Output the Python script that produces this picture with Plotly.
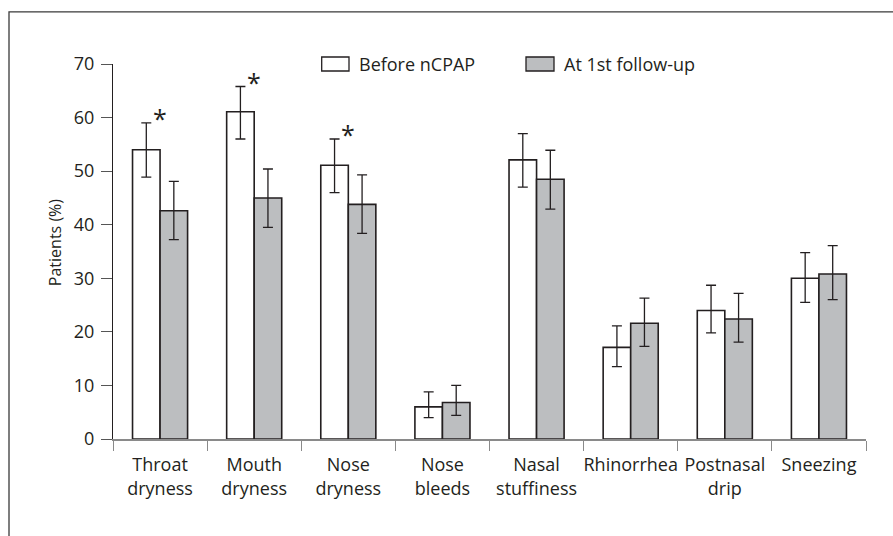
import plotly.graph_objects as go

categories = ["Throat<br>dryness", "Mouth<br>dryness", "Nose<br>dryness", "Nose<br>bleeds",
              "Nasal<br>stuffiness", "Rhinorrhea", "Postnasal<br>drip", "Sneezing"]
before = [54.0, 61.1, 51.1, 6.0, 52.1, 17.1, 24.0, 30.0]
before_err_up = [5.0, 4.7, 4.9, 2.8, 4.9, 4.0, 4.7, 4.8]
before_err_down = [5.1, 5.1, 5.1, 2.0, 5.1, 3.6, 4.2, 4.5]
after = [42.6, 45.0, 43.8, 6.8, 48.5, 21.6, 22.4, 30.8]
after_err_up = [5.5, 5.4, 5.5, 3.2, 5.4, 4.7, 4.8, 5.3]
after_err_down = [5.4, 5.5, 5.4, 2.4, 5.6, 4.3, 4.3, 4.8]
significant = [True, True, True, False, False, False, False, False]
series_names = ["Before nCPAP", "At 1st follow-up"]
y_ticks = [0, 10, 20, 30, 40, 50, 60, 70]

DARK = "#231f20"
GRAY_FILL = "#bcbec0"
AXIS_GRAY = "#8a8a8a"
FONT = "Open Sans"

W, H = 893, 536
L, R, T, B = 113, 866, 64, 438.7


def px(x):
    return (x - L) / (R - L)


def py(y):
    return (B - y) / (B - T)


fig = go.Figure()
fig.add_trace(go.Bar(
    x=categories, y=before, name=series_names[0],
    marker=dict(color="white", line=dict(color=DARK, width=1.6)),
    error_y=dict(type="data", symmetric=False, array=before_err_up, arrayminus=before_err_down,
                 color=DARK, thickness=1.3, width=5),
    showlegend=False,
))
fig.add_trace(go.Bar(
    x=categories, y=after, name=series_names[1],
    marker=dict(color=GRAY_FILL, line=dict(color=DARK, width=1.6)),
    error_y=dict(type="data", symmetric=False, array=after_err_up, arrayminus=after_err_down,
                 color=DARK, thickness=1.3, width=5),
    showlegend=False,
))

annotations = []
for c, sig, v, e in zip(categories, significant, before, before_err_up):
    if sig:
        annotations.append(dict(x=c, y=v + e, xref="x", yref="y", text="*", showarrow=False,
                                font=dict(family=FONT, size=25, color=DARK),
                                yanchor="middle", xanchor="center", yshift=5))

# legend (manual)
shapes = [
    dict(type="rect", xref="paper", yref="paper", x0=px(321.7), x1=px(349), y0=py(71), y1=py(57),
         fillcolor="white", line=dict(color=DARK, width=1.3)),
    dict(type="rect", xref="paper", yref="paper", x0=px(526), x1=px(554), y0=py(71), y1=py(57),
         fillcolor=GRAY_FILL, line=dict(color=DARK, width=1.3)),
    # outer frame
    dict(type="rect", xref="paper", yref="paper", x0=px(9), x1=px(1200), y0=py(900), y1=py(12),
         fillcolor="rgba(0,0,0,0)", line=dict(color="#3a3a3a", width=1.3), layer="below"),
]
annotations.append(dict(x=px(357), y=py(64), xref="paper", yref="paper", text=series_names[0],
                        showarrow=False, xanchor="left", yanchor="middle",
                        font=dict(family=FONT, size=18, color=DARK)))
annotations.append(dict(x=px(562), y=py(64), xref="paper", yref="paper", text=series_names[1],
                        showarrow=False, xanchor="left", yanchor="middle",
                        font=dict(family=FONT, size=18, color=DARK)))
annotations.append(dict(x=px(55), y=py(243), xref="paper", yref="paper", text="Patients (%)",
                        showarrow=False, textangle=-90, xanchor="center", yanchor="middle",
                        font=dict(family=FONT, size=16, color=DARK)))

fig.update_layout(
    width=W, height=H,
    margin=dict(l=L, r=W - R, t=T, b=H - B, pad=0),
    paper_bgcolor="white", plot_bgcolor="white",
    barmode="group", bargap=0.415, bargroupgap=0,
    font=dict(family=FONT, size=18, color=DARK),
    shapes=shapes, annotations=annotations,
    xaxis=dict(showline=True, linecolor=AXIS_GRAY, linewidth=1.5, automargin=False, tickangle=0,
               ticks="outside", tickson="boundaries", ticklen=10, tickcolor=AXIS_GRAY, tickwidth=1.3,
               showgrid=False, zeroline=False, ticklabelstandoff=9,
               tickfont=dict(family=FONT, size=18, color=DARK)),
    yaxis=dict(range=[0, 70], tickvals=y_ticks, showline=True, linecolor=DARK, linewidth=1.3,
               automargin=False, ticklabelstandoff=3,
               ticks="outside", ticklen=11, tickcolor="#555555", tickwidth=1.2,
               showgrid=False, zeroline=False,
               tickfont=dict(family=FONT, size=18, color=DARK)),
)

fig.write_html("out.html", config={"displayModeBar": False},
               post_script="document.body.style.margin='0';document.body.style.overflow='hidden';")
